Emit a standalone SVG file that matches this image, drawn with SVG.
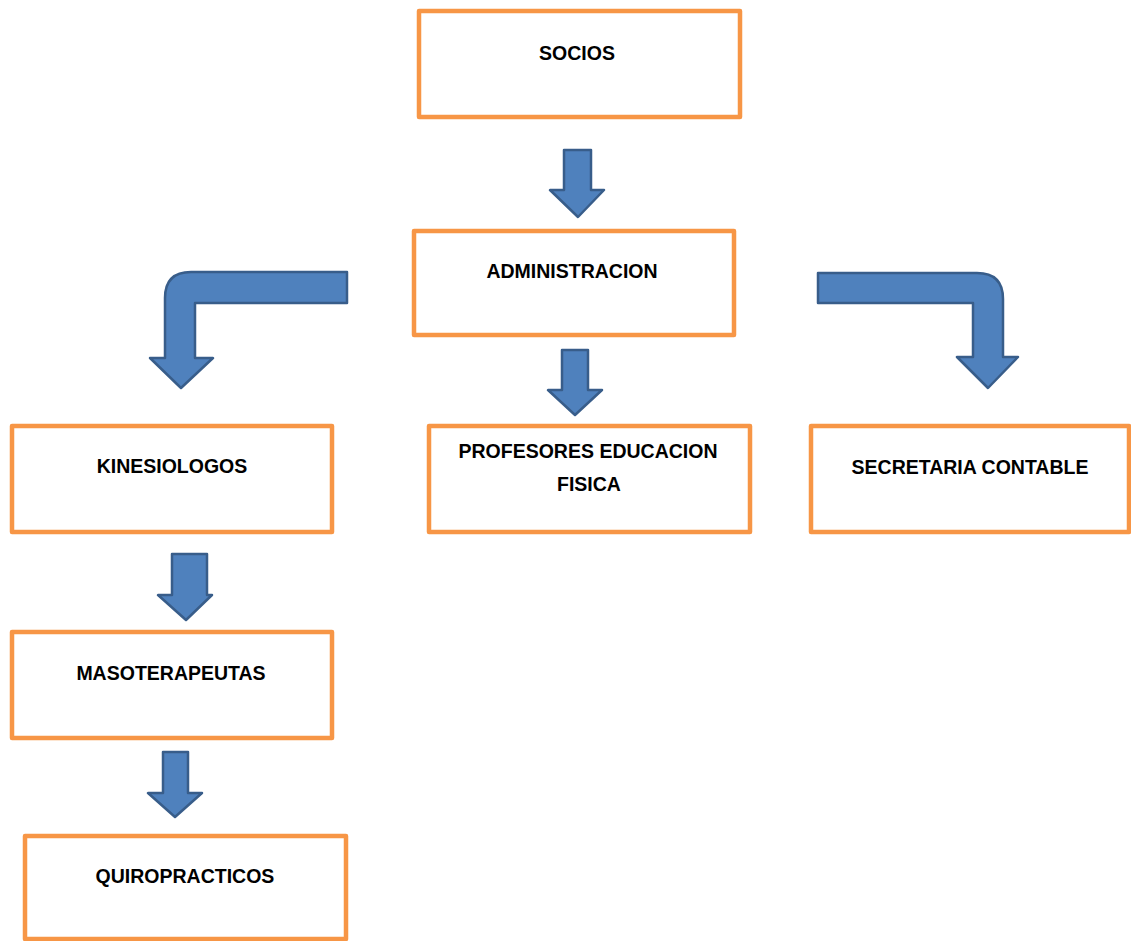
<svg xmlns="http://www.w3.org/2000/svg" width="1131" height="941" viewBox="0 0 1131 941">
<style>
.box{fill:#fff;stroke:#F79646;stroke-width:4.5;stroke-linejoin:round}
.lbl{font-family:"Liberation Sans",Arial,sans-serif;font-weight:bold;font-size:19.5px;fill:#000;text-anchor:middle}
.arr{fill:#4F81BD;stroke:#385D8A;stroke-width:2.5;stroke-linejoin:round}
</style>
<rect width="1131" height="941" fill="#fff"/>
<g id="connectors">
<path class="arr" d="M564,150 L591,150 L591,190 L604,190 L578,217 L550,190 L564,190 Z"/>
<path class="arr" d="M562,350 L588,350 L588,390 L602,390 L575,415 L548,390 L562,390 Z"/>
<path class="arr" d="M172,554 L207,554 L207,595 L212,595 L186,620 L158,595 L172,595 Z"/>
<path class="arr" d="M163,752 L188,752 L188,793 L202,793 L175,817 L148,793 L163,793 Z"/>
<path class="arr" d="M347,272 L191,272 Q165,272 165,298 L165,358 L150,358 L181,388 L213,358 L195,358 L195,303 L347,303 Z"/>
<path class="arr" d="M818,273 L977,273 Q1003,273 1003,299 L1003,357 L1018,357 L988,388 L957,357 L973,357 L973,303 L818,303 Z"/>
</g>
<g id="socios"><rect class="box" x="419" y="11" width="321" height="106"/><text class="lbl" x="577" y="60">SOCIOS</text></g>
<g id="administracion"><rect class="box" x="414" y="231" width="320" height="104"/><text class="lbl" x="572" y="278">ADMINISTRACION</text></g>
<g id="kinesiologos"><rect class="box" x="12" y="426" width="320" height="106"/><text class="lbl" x="172" y="473">KINESIOLOGOS</text></g>
<g id="profesores"><rect class="box" x="429" y="426" width="321" height="106"/><text class="lbl" x="588" y="458">PROFESORES EDUCACION</text><text class="lbl" x="589" y="491">FISICA</text></g>
<g id="secretaria"><rect class="box" x="811" y="426" width="318" height="106"/><text class="lbl" x="970" y="474">SECRETARIA CONTABLE</text></g>
<g id="masoterapeutas"><rect class="box" x="12" y="632" width="320" height="106"/><text class="lbl" x="171" y="680">MASOTERAPEUTAS</text></g>
<g id="quiropracticos"><rect class="box" x="25" y="836" width="321" height="103"/><text class="lbl" x="185" y="883">QUIROPRACTICOS</text></g>
</svg>
